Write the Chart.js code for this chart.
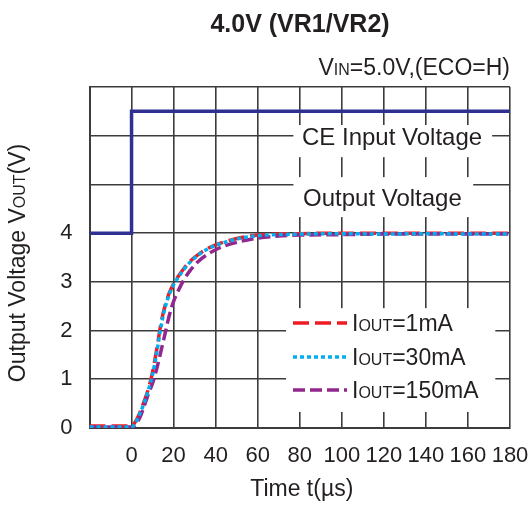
<!DOCTYPE html>
<html>
<head>
<meta charset="utf-8">
<script src="https://cdn.jsdelivr.net/npm/chart.js@4.4.0/dist/chart.umd.min.js"></script>
<style>
  html, body { margin: 0; padding: 0; background: #fff; overflow: hidden; }
  #chart { display: block; }
</style>
</head>
<body>
<canvas id="chart" width="528" height="505"></canvas>
<script>
// Time axis (us) and output voltage traces
const timeUs = [-20, 0, 2, 4, 6, 8, 10, 12, 14, 16, 18, 20, 22, 25, 28, 32, 36, 40, 45, 50, 55, 60, 70, 80, 100, 120, 140, 160, 180];
const vout1mA = [0.04, 0.04, 0.14, 0.32, 0.55, 0.8, 1.15, 1.62, 2.15, 2.52, 2.78, 2.96, 3.1, 3.28, 3.43, 3.57, 3.68, 3.76, 3.83, 3.89, 3.93, 3.96, 3.98, 3.99, 4.0, 4.0, 4.0, 4.0, 4.0];
const vout30mA = [0.02, 0.02, 0.12, 0.3, 0.52, 0.78, 1.1, 1.55, 2.08, 2.48, 2.75, 2.94, 3.08, 3.26, 3.41, 3.56, 3.67, 3.75, 3.82, 3.88, 3.92, 3.95, 3.97, 3.98, 3.99, 3.98, 3.99, 3.98, 3.98];
const vout150mA = [0.02, 0.02, 0.08, 0.22, 0.45, 0.7, 0.92, 1.22, 1.58, 1.95, 2.32, 2.6, 2.8, 3.05, 3.24, 3.43, 3.56, 3.66, 3.75, 3.81, 3.86, 3.9, 3.94, 3.96, 3.97, 3.98, 3.98, 3.98, 3.98];

// CE input step (drawn on the same grid)
const ceTime = [-20, 0, 0, 180];
const ceVolt = [4.0, 4.0, 6.5, 6.5];

const xTicks = [-20, 0, 20, 40, 60, 80, 100, 120, 140, 160, 180];
const yMax = 7;
const yLabelMax = 4;

const FONT = "'Liberation Sans', Arial, sans-serif";
const TEXT = '#231f20';
const GRID = '#3c3c3c';

const series = [
  { label: '1mA', data: vout1mA, color: '#ee1c25', dash: [16, 6], order: 3 },
  { label: '30mA', data: vout30mA, color: '#00aeef', dash: [4, 3], order: 1 },
  { label: '150mA', data: vout150mA, color: '#92278f', dash: [12, 5], order: 2 }
];

function pts(xs, ys) {
  return xs.map((x, i) => ({ x: x, y: ys[i] }));
}

// draws text made of pieces with different sizes (for the small-caps subscripts)
function drawRich(ctx, parts, x, y, align) {
  let total = 0;
  parts.forEach(p => {
    ctx.font = (p.bold ? 'bold ' : '') + p.size + 'px ' + FONT;
    p.w = ctx.measureText(p.t).width;
    total += p.w;
  });
  let cx = align === 'center' ? x - total / 2 : align === 'right' ? x - total : x;
  ctx.textAlign = 'left';
  ctx.textBaseline = 'alphabetic';
  parts.forEach(p => {
    ctx.font = (p.bold ? 'bold ' : '') + p.size + 'px ' + FONT;
    ctx.fillText(p.t, cx, y);
    cx += p.w;
  });
}

const annotations = {
  id: 'annotations',
  beforeDatasetsDraw(chart) {
    const { ctx, scales: { x, y } } = chart;
    ctx.save();
    ctx.fillStyle = '#fff';
    const box = (x0, x1, y0, y1) => {
      const l = x.getPixelForValue(x0), r = x.getPixelForValue(x1);
      const t = y.getPixelForValue(y1), b = y.getPixelForValue(y0);
      ctx.fillRect(l, t, r - l, b - t);
    };
    box(77, 171.5, 5.56, 6.22);   // CE Input Voltage label
    box(77, 162.5, 4.33, 5.15);   // Output Voltage label
    box(73.5, 173, 0.33, 2.46);   // legend
    ctx.restore();
  },
  afterDraw(chart) {
    const { ctx, chartArea: a } = chart;
    ctx.save();
    ctx.fillStyle = TEXT;
    const mid = (a.left + a.right) / 2;

    drawRich(ctx, [{ t: '4.0V (VR1/VR2)', size: 25, bold: true }], 300, 32, 'center');
    drawRich(ctx, [
      { t: 'V', size: 23 }, { t: 'IN', size: 16 }, { t: '=5.0V,(ECO=H)', size: 23 }
    ], a.right, 75, 'right');

    drawRich(ctx, [{ t: 'CE Input Voltage', size: 24 }], 302, 145, 'left');
    drawRich(ctx, [{ t: 'Output Voltage', size: 24 }], 303, 206, 'left');

    drawRich(ctx, [{ t: 'Time t(\u00b5s)', size: 23 }], mid + 2, 496, 'center');

    ctx.save();
    ctx.translate(25, 263);
    ctx.rotate(-Math.PI / 2);
    drawRich(ctx, [
      { t: 'Output Voltage V', size: 23 }, { t: 'OUT', size: 16 }, { t: '(V)', size: 23 }
    ], 0, 0, 'center');
    ctx.restore();

    // legend
    const rowY = [323, 357, 390];
    series.forEach((s, i) => {
      ctx.save();
      ctx.strokeStyle = s.color;
      ctx.lineWidth = 3.5;
      ctx.setLineDash(s.dash);
      ctx.beginPath();
      ctx.moveTo(293, rowY[i]);
      ctx.lineTo(347, rowY[i]);
      ctx.stroke();
      ctx.restore();
      drawRich(ctx, [
        { t: 'I', size: 23 }, { t: 'OUT', size: 16 }, { t: '=' + s.label, size: 23 }
      ], 352, rowY[i] + 8, 'left');
    });
    ctx.restore();
  }
};

const datasets = [{
  label: 'CE Input Voltage',
  data: pts(ceTime, ceVolt),
  borderColor: '#2e3192',
  borderWidth: 3.5,
  tension: 0,
  pointRadius: 0,
  order: 0
}];
series.forEach(s => {
  datasets.push({
    label: 'IOUT=' + s.label,
    data: pts(timeUs, s.data),
    borderColor: s.color,
    borderWidth: 3.5,
    borderDash: s.dash,
    cubicInterpolationMode: 'monotone',
    pointRadius: 0,
    order: s.order
  });
});

new Chart(document.getElementById('chart'), {
  type: 'line',
  data: { datasets: datasets },
  options: {
    responsive: false,
    animation: false,
    layout: { padding: { top: 87, right: 18, left: 0, bottom: 0 } },
    plugins: { legend: { display: false }, tooltip: { enabled: false } },
    scales: {
      x: {
        type: 'linear',
        min: -20,
        max: 180,
        afterBuildTicks: s => { s.ticks = xTicks.map(v => ({ value: v })); },
        afterFit: s => { s.height = 77; s.paddingLeft = 0; s.paddingRight = 0; },
        ticks: {
          callback: v => (v < 0 ? '' : v),
          font: { family: FONT, size: 22 },
          color: TEXT,
          padding: 15,
          maxRotation: 0,
          autoSkip: false
        },
        grid: { color: GRID, lineWidth: 1.6, drawTicks: false },
        border: { color: GRID, width: 2 }
      },
      y: {
        min: 0,
        max: yMax,
        afterFit: s => { s.width = 89.5; s.paddingTop = 0; s.paddingBottom = 0; },
        ticks: {
          stepSize: 1,
          callback: v => (v <= yLabelMax ? v : ''),
          font: { family: FONT, size: 22 },
          color: TEXT,
          padding: 17
        },
        grid: { color: GRID, lineWidth: 1.6, drawTicks: false },
        border: { color: GRID, width: 2 }
      }
    }
  },
  plugins: [annotations]
});
</script>
</body>
</html>
